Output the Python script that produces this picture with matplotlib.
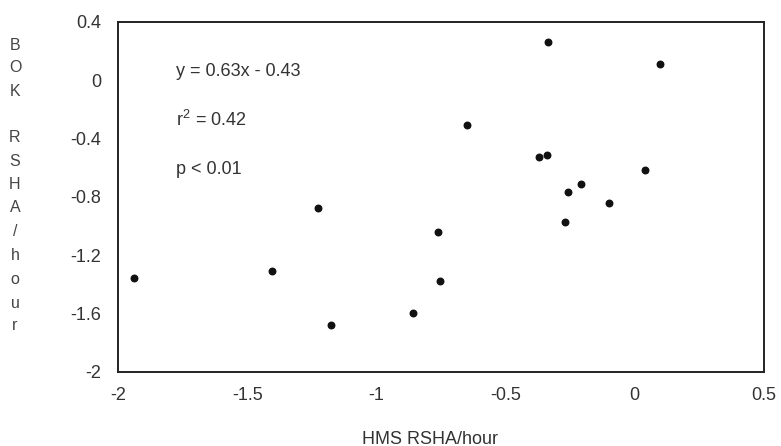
import matplotlib.pyplot as plt

# === data ===
hms_rsha = [-1.937, -1.403, -1.225, -1.177, -0.857, -0.763, -0.754, -0.648,
            -0.372, -0.339, -0.335, -0.269, -0.257, -0.208, -0.099, 0.039, 0.098]
bok_rsha = [-1.352, -1.306, -0.875, -1.679, -1.592, -1.042, -1.379, -0.308,
            -0.526, -0.510, 0.265, -0.973, -0.767, -0.714, -0.843, -0.613, 0.111]

x_ticks = [-2, -1.5, -1, -0.5, 0, 0.5]
x_tick_labels = ["-2", "-1.5", "-1", "-0.5", "0", "0.5"]
y_ticks = [0.4, 0, -0.4, -0.8, -1.2, -1.6, -2]
y_tick_labels = ["0.4", "0", "-0.4", "-0.8", "-1.2", "-1.6", "-2"]

stats_lines = ["y = 0.63x - 0.43", "$r^2$ = 0.42", "p < 0.01"]
ylabel_letters = ["B", "O", "K", "R", "S", "H", "A", "/", "h", "o", "u", "r"]

plt.rcParams['font.family'] = ['Liberation Sans', 'DejaVu Sans']
plt.rcParams['mathtext.fontset'] = 'custom'
plt.rcParams['mathtext.rm'] = 'Liberation Sans'
plt.rcParams['mathtext.it'] = 'Liberation Sans'

W, H = 781, 446
fig = plt.figure(figsize=(W / 100, H / 100), dpi=100)
ax = fig.add_axes([118 / W, 1 - 372 / H, (764 - 118) / W, (372 - 22) / H])

ax.scatter(hms_rsha, bok_rsha, s=22, color='#111111', zorder=3)

ax.set_xlim(-2, 0.5)
ax.set_ylim(-2, 0.4)
ax.set_xticks(x_ticks)
ax.set_xticklabels(x_tick_labels)
ax.set_yticks(y_ticks)
ax.set_yticklabels(y_tick_labels)
ax.tick_params(length=0, labelsize=13, labelcolor='#333333')
ax.tick_params(axis='y', pad=12)
ax.tick_params(axis='x', pad=11)
for sp in ax.spines.values():
    sp.set_linewidth(1.4)
    sp.set_color('#222222')

# regression stats
for txt, ypix in zip(stats_lines, [72, 120, 170]):
    fig.text(176 / W, 1 - ypix / H, txt, fontsize=13, color='#333333', va='center', ha='left')

# x label (sits a bit left of the axis centre in the original)
fig.text(430 / W, 1 - 439 / H, "HMS RSHA/hour", fontsize=13, color='#333333',
         ha='center', va='center')

# stacked vertical y label
ypos = [45, 67, 91, 138, 161, 184, 208, 232, 256, 280, 303, 326]
for ch, ypix in zip(ylabel_letters, ypos):
    fig.text(15 / W, 1 - ypix / H, ch, fontsize=11.5, color='#444444', ha='center', va='center')

plt.savefig("out.png", dpi=100)
